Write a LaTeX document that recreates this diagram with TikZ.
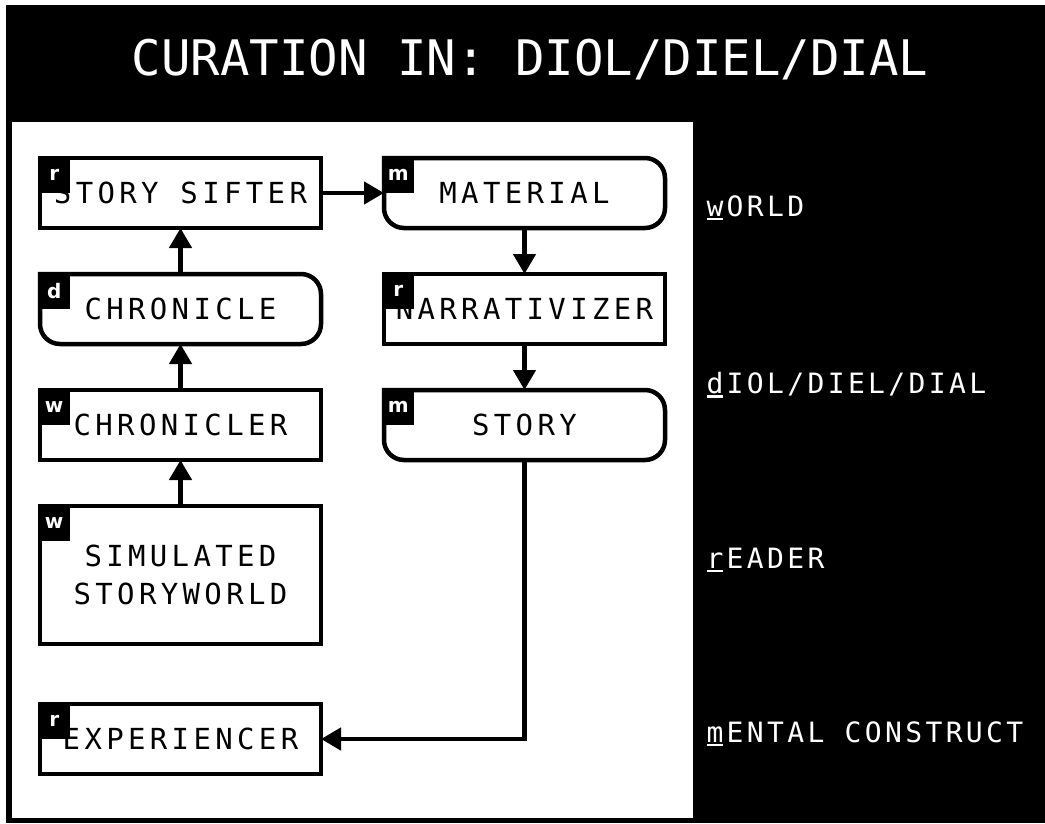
\documentclass[tikz,border=0pt]{standalone}
\usepackage{fontspec}
\usepackage{tikz}
\usetikzlibrary{positioning, calc, arrows.meta}

\newfontfamily\titlefont{DejaVu Sans Mono}
\newfontfamily\boxfont[LetterSpace = 15]{DejaVu Sans Mono}
\newfontfamily\sidefont[LetterSpace = 12]{DejaVu Sans Mono}
\newfontfamily\tagfont{DejaVu Sans}
\newcommand{\ulchar}[1]{\rlap{\rule[-4pt]{0.6em}{2.5pt}}#1}

\tikzset{
        block/.style = {draw, line width = 4.5pt, rectangle, outer sep = 0pt,
        minimum width = 281pt, minimum height = 70pt,
        font = \fontsize{29}{32}\selectfont\boxfont},
        rblock/.style = {block, draw = none},
        tag/.style = {fill = black, text = white, anchor = north west,
        xshift = -2pt, yshift = 2pt, inner sep = 0pt, minimum width = 32pt,
        minimum height = 37pt, font = \fontsize{20}{20}\selectfont\tagfont\bfseries},
        flow/.style = {line width = 4.5pt, -{Triangle[width = 22pt, length = 20pt]}},
        side/.style = {text = white, anchor = west,
        font = \fontsize{28}{30}\selectfont\sidefont},
}

\begin{document}
\begin{tikzpicture}[node distance = 46pt]
        \useasboundingbox (0,0) rectangle (1045pt,-823pt);
        \fill [white] (0,0) rectangle (1045pt,-823pt);
        \fill [black] (6pt,-5pt) rectangle (1045pt,-823pt);
        \node (title) [text = white, font = \fontsize{49}{52}\selectfont\titlefont]
        at (530pt,-60pt) {CURATION IN: DIOL/DIEL/DIAL} ;
        \fill [white] (12pt,-122pt) rectangle (693pt,-818pt);

        \node (sifter) [block] at (180.5pt,-193pt) {STORY SIFTER} ;
        \node (chronicle) [rblock, below = of sifter] {CHRONICLE} ;
        \node (chronicler) [block, below = of chronicle] {CHRONICLER} ;
        \node (storyworld) [block, below = of chronicler, minimum height = 138pt,
        align = center] {SIMULATED\\[6pt]STORYWORLD} ;
        \node (experiencer) [block, below = 60pt of storyworld] {EXPERIENCER} ;
        \node (material) [rblock, right = 63pt of sifter] {MATERIAL} ;
        \node (narrativizer) [block, below = of material] {NARRATIVIZER} ;
        \node (story) [rblock, below = of narrativizer] {STORY} ;

        \foreach \n in {chronicle, material, story} {
                \draw [line width = 4.5pt] (\n.north west)
                -- ([xshift = -20pt]\n.north east)
                arc [start angle = 90, end angle = 0, radius = 20pt]
                -- ([yshift = 20pt]\n.south east)
                arc [start angle = 0, end angle = -90, radius = 20pt]
                -- ([xshift = 20pt]\n.south west)
                arc [start angle = 270, end angle = 180, radius = 20pt]
                -- cycle ;
        }

        \node (sifter tag) [tag] at (sifter.north west) {r} ;
        \node (chronicle tag) [tag] at (chronicle.north west) {d} ;
        \node (chronicler tag) [tag] at (chronicler.north west) {w} ;
        \node (storyworld tag) [tag] at (storyworld.north west) {w} ;
        \node (experiencer tag) [tag] at (experiencer.north west) {r} ;
        \node (material tag) [tag] at (material.north west) {m} ;
        \node (narrativizer tag) [tag] at (narrativizer.north west) {r} ;
        \node (story tag) [tag] at (story.north west) {m} ;

        \draw [flow] (storyworld) -- (chronicler) ;
        \draw [flow] (chronicler) -- (chronicle) ;
        \draw [flow] (chronicle) -- (sifter) ;
        \draw [flow] (sifter) -- (material) ;
        \draw [flow] (material) -- (narrativizer) ;
        \draw [flow] (narrativizer) -- (story) ;
        \draw [flow] (story.south) |- (experiencer.east) ;

        \node (world) [side] at (703pt,-208pt) {\ulchar{w}ORLD} ;
        \node (diol) [side] at (703pt,-385pt) {\ulchar{d}IOL/DIEL/DIAL} ;
        \node (reader) [side] at (703pt,-560pt) {\ulchar{r}EADER} ;
        \node (mental) [side] at (703pt,-734pt) {\ulchar{m}ENTAL CONSTRUCT} ;
\end{tikzpicture}
\end{document}
